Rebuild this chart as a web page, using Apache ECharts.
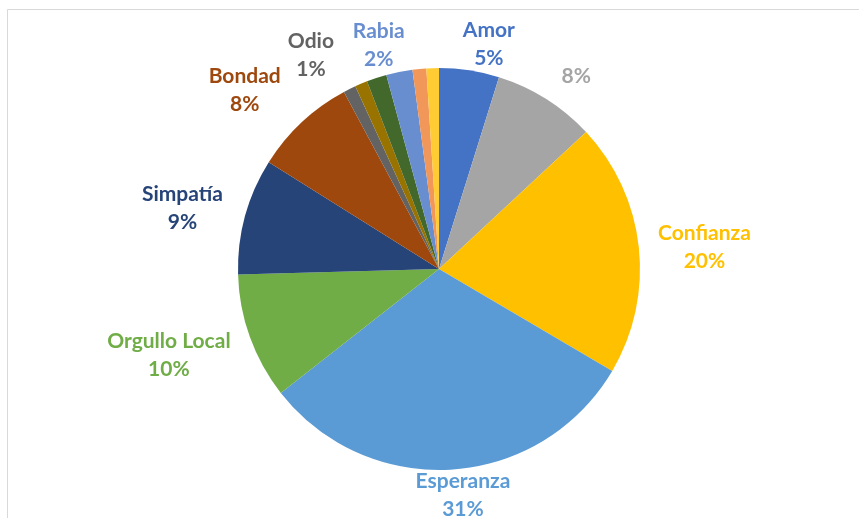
<!DOCTYPE html>
<html>
<head>
<meta charset="utf-8">
<script src="https://cdn.jsdelivr.net/npm/echarts@6/dist/echarts.min.js"></script>
<style>
html,body{margin:0;padding:0;background:#fff;}
#chart{width:859px;height:518px;}
</style>
</head>
<body>
<div id="chart"></div>
<script>
// Data (clockwise from 12 o'clock)
const categories = ['Amor', '', 'Confianza', 'Esperanza', 'Orgullo Local', 'Simpatía', 'Bondad', 'Odio', ' ', '  ', 'Rabia', '   ', '    '];
const values = [4.8, 8.2, 20.3, 30.8, 10.1, 9.3, 8.2, 1.0, 1.0, 1.6, 2.1, 1.1, 1.0];
const showLabel = [true, true, true, true, true, true, true, true, false, false, true, false, false];

// Styles
const colors = ['#4472C4', '#A5A5A5', '#FFC000', '#5B9BD5', '#70AD47', '#264478', '#9E480E', '#636363', '#997300', '#43682B', '#698ED0', '#F1975A', '#FFCD33'];
const labelDist = [30, 36, 64, 25, 84, 65, 66, 51, 20, 20, 33, 20, 20];
const labelDx = [15, 11, 2, 9, -2, 0, -12, -16, 0, 0, -14, 0, 0];
const labelDy = [4, 8, 7, 1, -10, 9, 16, 12, 0, 0, 6, 0, 0];

const chart = echarts.init(document.getElementById('chart'), null, {renderer: 'canvas'});
const data = categories.map((c, i) => ({
  name: c,
  value: values[i],
  itemStyle: {color: colors[i]},
  label: {show: showLabel[i], color: colors[i]},
  labelLine: {show: false, length: labelDist[i], length2: 0}
}));

chart.setOption({
  animation: false,
  backgroundColor: '#fff',
  graphic: [{
    type: 'rect', silent: true,
    shape: {x: 7.5, y: 9.5, width: 900, height: 600},
    style: {fill: 'none', stroke: '#d9d9d9', lineWidth: 1}
  }],
  series: [{
    type: 'pie',
    center: [439, 269],
    radius: [0, 201],
    startAngle: 90,
    clockwise: true,
    avoidLabelOverlap: false,
    data: data,
    itemStyle: {borderWidth: 0},
    label: {
      position: 'outside',
      distanceToLabelLine: 0,
      fontFamily: 'Lato',
      fontWeight: 'bold',
      fontSize: 21,
      lineHeight: 28,
      formatter: p => {
        const pct = Math.round(p.percent) + '%';
        return p.name.trim() ? p.name + '\n' + pct : pct;
      }
    },
    labelLayout: p => ({align: 'center', verticalAlign: 'middle', dx: labelDx[p.dataIndex], dy: labelDy[p.dataIndex]}),
    emphasis: {disabled: true}
  }]
});
</script>
</body>
</html>
